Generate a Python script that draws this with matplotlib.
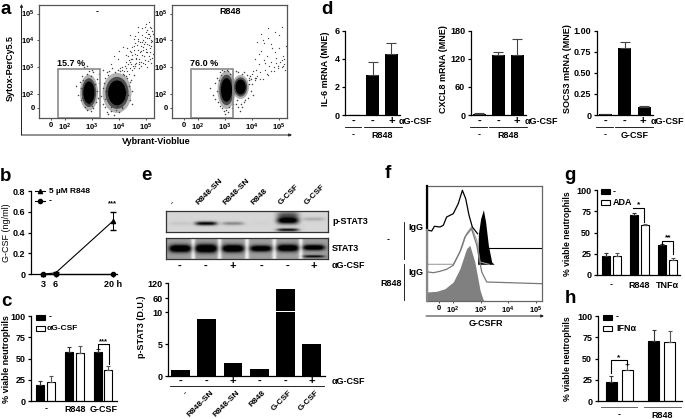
import numpy as np
import matplotlib
matplotlib.use('Agg')
import matplotlib.pyplot as plt
from matplotlib.lines import Line2D
from matplotlib.patches import Rectangle, Ellipse

plt.rcParams['font.family'] = ['Liberation Sans', 'DejaVu Sans']
plt.rcParams['font.weight'] = 'bold'
plt.rcParams['mathtext.fontset'] = 'custom'
plt.rcParams['mathtext.bf'] = 'Liberation Sans:bold'
plt.rcParams['axes.linewidth'] = 0.9

W, H = 685, 419

# panel a, flow plots, values in log10 units
a_tail_left_x = [4.1, 4.2, 4.25, 4.3, 4.35, 4.4, 4.4, 4.45, 4.5, 4.5, 4.55, 4.6, 4.6, 4.65, 4.7, 4.7, 4.75, 4.8, 4.8,
                 4.85, 4.85, 4.9, 4.9, 4.95, 5.0, 5.0, 5.05, 5.05, 5.1, 5.1, 5.15, 5.15, 5.2, 5.2, 5.25, 5.25, 4.3,
                 4.45, 4.6, 4.7, 4.85, 4.95, 5.05, 5.15, 5.2, 3.8, 4.0, 4.15, 4.4, 4.6, 4.75, 4.9, 5.05, 5.2, 5.0, 5.1,
                 4.22, 4.33, 4.42, 4.52, 4.57, 4.63, 4.68, 4.73, 4.78, 4.83, 4.88, 4.93, 4.97, 5.02, 5.08, 5.12, 5.18,
                 5.23, 4.28, 4.38, 4.48, 4.58, 4.66, 4.72, 4.82, 4.92, 5.03, 5.13, 5.22, 4.47, 4.62, 4.77, 4.87, 4.98,
                 5.07, 5.17, 5.24, 4.12, 4.18, 4.26, 4.36, 4.46, 4.56, 4.76, 4.96, 5.16, 3.7, 3.95, 4.05, 4.55, 4.72]
a_tail_left_y = [2.9, 2.7, 3.2, 2.85, 3.4, 2.95, 3.6, 3.1, 3.3, 3.75, 2.95, 3.5, 3.9, 3.15, 3.65, 4.05, 3.3, 3.8, 3.05,
                 4.2, 3.45, 3.65, 4.0, 3.25, 4.3, 3.55, 3.85, 4.4, 3.4, 4.1, 4.5, 3.7, 3.95, 4.45, 4.25, 3.5, 3.7,
                 3.3, 4.15, 4.3, 4.45, 4.5, 4.1, 3.3, 3.8, 3.4, 3.6, 3.75, 4.2, 3.05, 2.95, 3.15, 3.0, 3.15, 4.6, 4.7,
                 3.05, 3.12, 3.2, 3.05, 3.62, 3.28, 3.45, 3.18, 3.55, 3.2, 3.75, 3.4, 4.12, 3.68, 3.22, 3.82, 4.0,
                 3.32, 2.98, 3.25, 3.45, 3.12, 3.82, 3.98, 3.6, 3.85, 3.55, 4.25, 4.35, 2.9, 3.32, 3.92, 3.92, 3.95,
                 4.25, 3.55, 3.98, 3.0, 2.85, 3.45, 2.75, 3.55, 3.78, 3.1, 3.1, 4.15, 3.1, 3.3, 2.95, 4.05, 4.5]
a_tail_right_x = [3.9, 4.0, 4.1, 4.15, 4.2, 4.3, 4.35, 4.4, 4.45, 4.5, 4.55, 4.6, 4.6, 4.7, 4.7, 4.75, 4.8, 4.85, 4.9,
                  4.95, 5.0, 5.05, 5.1, 5.15, 5.2, 5.25, 4.1, 4.25, 4.4, 4.5, 4.6, 4.7, 4.85, 5.0, 5.1, 4.2, 4.35,
                  4.05, 4.15, 4.3, 4.55, 4.8, 5.15, 5.22, 4.95, 4.65, 4.45, 4.25, 5.2, 5.1, 4.9]
a_tail_right_y = [2.6, 2.75, 2.5, 2.9, 2.65, 2.8, 3.6, 2.55, 3.9, 2.9, 3.4, 2.7, 4.1, 3.2, 2.85, 3.7, 3.0, 4.3, 3.35,
                  3.05, 3.7, 3.2, 4.5, 3.4, 3.1, 3.8, 3.3, 3.5, 4.0, 3.15, 4.45, 3.85, 3.55, 4.2, 3.0, 3.95, 4.25,
                  2.85, 2.6, 2.55, 2.75, 2.85, 3.05, 2.9, 2.95, 3.05, 3.25, 3.1, 3.3, 3.25, 3.15]
a_halo_left_x = [2.42, 2.5, 2.55, 2.58, 2.6, 2.62, 2.65, 2.68, 2.7, 3.1, 3.14, 3.18, 3.2, 3.22, 3.25, 3.28, 2.75, 2.8,
                 2.9, 2.95, 3.0, 3.05, 2.8, 2.88, 2.96, 3.04, 3.35, 3.4, 3.42, 3.45, 3.48, 3.5, 3.5, 3.52, 3.55, 3.58,
                 4.3, 4.35, 4.38, 4.42, 4.45, 4.48, 4.5, 4.55, 3.6, 3.7, 3.8, 3.9, 4.0, 4.1, 3.65, 3.75, 3.85, 3.95,
                 4.05, 3.72, 3.82, 3.92, 4.02, 4.12, 4.22, 4.28, 4.15, 4.25, 4.4, 3.42, 3.55, 2.72, 2.82, 3.02]
a_halo_left_y = [2.3, 1.95, 2.45, 1.75, 2.2, 2.65, 1.85, 2.5, 2.05, 2.35, 1.7, 2.55, 2.1, 1.85, 2.75, 2.4, 1.5, 1.4,
                 1.6, 1.35, 1.55, 1.45, 2.75, 2.85, 2.65, 2.8, 1.9, 2.2, 1.6, 2.4, 1.8, 1.5, 2.6, 2.1, 1.3, 2.7,
                 2.6, 1.95, 2.3, 1.75, 2.5, 2.1, 1.6, 2.7, 1.25, 1.35, 1.2, 1.4, 1.3, 1.45, 2.85, 2.95, 2.8, 2.9,
                 2.85, 1.5, 1.6, 1.55, 1.65, 1.5, 1.8, 2.05, 2.75, 2.65, 2.45, 2.9, 2.8, 3.0, 3.05, 2.9]
a_halo_right_x = [2.45, 2.55, 2.62, 2.65, 2.7, 2.72, 2.75, 2.78, 2.8, 2.85, 2.9, 2.95, 3.0, 3.05, 3.1, 3.15, 2.82, 2.9,
                  2.98, 3.06, 3.12, 3.2, 3.25, 3.3, 3.9, 3.95, 4.0, 4.05, 3.85, 3.92, 3.98, 3.7, 3.6, 3.5, 3.45, 3.4,
                  3.8, 3.72, 3.62, 3.5, 3.4, 3.55, 3.65, 3.75, 4.1, 3.88]
a_halo_right_y = [2.2, 1.95, 2.4, 1.8, 2.1, 2.6, 1.7, 2.5, 1.55, 2.7, 1.45, 1.35, 1.25, 1.4, 1.3, 1.5, 2.8, 2.9, 2.85,
                  2.9, 2.85, 2.75, 1.45, 1.6, 2.5, 2.1, 2.35, 1.95, 1.85, 2.65, 2.55, 1.7, 1.6, 1.5, 1.75, 1.6,
                  2.7, 2.8, 2.75, 2.8, 2.85, 1.35, 1.5, 1.75, 2.6, 2.35]
a_cluster_left = [(2.89, 2.04, 0.67, 1.35), (3.93, 2.03, 1.07, 1.5)]
a_cluster_right = [(3.58, 2.25, 0.62, 0.9), (3.06, 2.14, 0.67, 1.43)]
a_ticks = [1.48, 2, 3, 4, 5]
a_ticklabels = ['0', r'$\mathbf{10^2}$', r'$\mathbf{10^3}$', r'$\mathbf{10^4}$', r'$\mathbf{10^5}$']

# panel b
b_hours = [3, 6, 20]
b_r848 = [0.0, 0.01, 0.51]
b_r848_err = [0.0, 0.01, 0.085]
b_ctrl = [0.0, 0.0, 0.0]

# panel c
c_groups = ['-', 'R848', 'G-CSF']
c_black = [19, 58, 58]
c_black_err = [5, 5, 3]
c_white = [22, 56, 36]
c_white_err = [7, 9, 5]

# panel d
d_il6 = [0.0, 2.85, 4.35]
d_il6_err = [0.0, 0.95, 0.75]
d_cxcl8 = [3, 128, 129]
d_cxcl8_err = [1, 7, 33]
d_socs3 = [0.01, 0.80, 0.09]
d_socs3_err = [0.005, 0.07, 0.015]

# panel e
e_names = ['-', 'R848-SN', 'R848-SN', 'R848', 'G-CSF', 'G-CSF']
e_signs = ['-', '-', '+', '-', '-', '+']
e_pstat = [1.0, 8.9, 2.1, 1.1, 97, 5.0]
# blot bands: lane, y centre, thickness, strength
e_bands_p = [(0, 223.5, 2, 0.06), (1, 223.5, 2.0, 0.85), (2, 223.5, 1.8, 0.3), (3, 223.5, 2, 0.02),
             (4, 220.5, 3.6, 1.0), (4, 214.5, 3.5, 0.45), (4, 230, 1.6, 0.8), (5, 219, 1.8, 0.16)]
e_bands_s = [(0, 248.5, 3.8, 0.95), (1, 248.5, 4.2, 1.0), (2, 248.5, 3.8, 0.95), (3, 248.5, 3.2, 0.85),
             (4, 248, 3.6, 0.9), (5, 247.5, 2.8, 0.85), (5, 256.5, 1.3, 0.6)]

# panel f, histograms, x in log10 units, y in counts
f_black_x = [1.11, 1.23, 1.33, 1.53, 1.65, 1.77, 2.01, 2.19, 2.34, 2.46, 2.58, 2.70, 2.89]
f_black_y = [70.7, 70, 74.7, 74, 75.7, 84, 87.3, 97.3, 110.7, 102.3, 85.7, 74, 67.3]
f_peak_x = [2.89, 2.92, 3.0, 3.10, 3.18, 3.28, 3.40, 3.49]
f_peak_y = [36.7, 67.3, 82.3, 91.3, 79, 55.7, 39, 36.7]
f_tail_x = [3.28, 3.76, 5.22]
f_tail_y = [53, 53, 53]
f_light_x = [1.06, 2.01, 2.31, 2.49, 2.67, 2.86, 2.98, 3.3]
f_light_y = [36.7, 36.7, 52.3, 67.3, 74, 60.7, 39, 36.7]
f_grey_x = [1.11, 1.29, 1.53, 1.77, 2.01, 2.25, 2.43, 2.67, 2.86, 3.04, 3.22, 5.22]
f_grey_y = [29, 28.3, 29.7, 31.7, 35.7, 49, 64, 72.3, 55.7, 29, 19, 17.3]
f_fill_x = [1.06, 1.41, 1.71, 2.01, 2.25, 2.49, 2.61, 2.79, 2.98, 3.10, 3.25]
f_fill_y = [9, 9.7, 12.3, 19, 32.3, 52.3, 55.7, 39, 10.7, 0.7, 0]

# panel g
g_black = [22, 71, 35]
g_black_err = [4, 2, 1]
g_white = [22, 59, 18]
g_white_err = [4, 1, 2]

# panel h
h_black = [22, 71]
h_black_err = [7, 12]
h_white = [36, 69]
h_white_err = [7, 13]

fig = plt.figure(figsize=(W / 100, H / 100), dpi=100)


def px_ax(x0, y0, x1, y1):
    return fig.add_axes([x0 / W, 1 - y1 / H, (x1 - x0) / W, (y1 - y0) / H])


def txt(x, y, s, size=6.5, ha='center', va='center', **kw):
    return fig.text(x / W, 1 - y / H, s, fontsize=size, ha=ha, va=va, **kw)


def line(xs, ys, color='k', lw=0.8):
    fig.add_artist(Line2D([x / W for x in xs], [1 - y / H for y in ys], color=color, lw=lw))


def arrow(x0, y0, x1, y1):
    fig.add_artist(matplotlib.patches.FancyArrowPatch((x0 / W, 1 - y0 / H), (x1 / W, 1 - y1 / H),
                                                      transform=fig.transFigure, arrowstyle='-|>', mutation_scale=4,
                                                      lw=0.7, color='#222222', shrinkA=0, shrinkB=0))


def legend_box(x, y, color):
    fig.add_artist(Rectangle((x / W, 1 - (y + 2.5) / H), 9 / W, 5 / H, transform=fig.transFigure,
                             fc=color, ec='k', lw=0.8))


def clean(ax, top, bottom, yticks, yfmt):
    ax.spines['top'].set_visible(False)
    ax.spines['right'].set_visible(False)
    ax.set_ylim(bottom, top)
    ax.set_yticks(yticks)
    ax.set_yticklabels([yfmt % v for v in yticks], fontsize=6.5)
    ax.tick_params(axis='y', length=2.5, width=0.9, pad=1.5)
    ax.set_xticks([])
    ax.patch.set_alpha(0)


def flow(x0, clusters, tx, ty, hx, hy, gate_lbl, title):
    ax = px_ax(x0, 5, x0 + 115, 118)
    ax.set_xlim(1.04, 5.3)
    ax.set_ylim(1.09, 5.32)
    ax.scatter(hx, hy, s=1.2, color='#444444', linewidths=0)
    for c_x, c_y, w, h in clusters:
        ax.add_patch(Ellipse((c_x, c_y), w, h, fc='#555555', ec='none', alpha=0.45))
        ax.add_patch(Ellipse((c_x, c_y), w * 0.8, h * 0.8, fc='#222222', ec='none', alpha=0.7))
        ax.add_patch(Ellipse((c_x, c_y), w * 0.62, h * 0.62, fc='k', ec='none'))
    ax.scatter(tx, ty, s=0.9, color='#444444', linewidths=0)
    ax.add_patch(Rectangle((1.74, 1.09), 1.56, 1.84, fc='none', ec='#8a8a8a', lw=1.2, clip_on=False))
    ax.set_xticks(a_ticks)
    ax.set_xticklabels(a_ticklabels, fontsize=5.5)
    ax.set_yticks(a_ticks)
    ax.set_yticklabels(a_ticklabels, fontsize=5.5)
    ax.tick_params(length=1.5, width=0.5, pad=1.5)
    for s in ax.spines.values():
        s.set_color('#555555')
        s.set_linewidth(0.9)
    txt(x0 + 18, 63, gate_lbl, ha='left')
    txt(x0 + 58, 12, title)


# a
flow(39, a_cluster_left, a_tail_left_x, a_tail_left_y, a_halo_left_x, a_halo_left_y, '15.7 %', '-')
flow(172, a_cluster_right, a_tail_right_x, a_tail_right_y, a_halo_right_x, a_halo_right_y, '76.0 %', 'R848')
arrow(21.5, 135, 21.5, 4)
arrow(21.5, 135, 292, 135)
txt(10, 68, 'Sytox-PerCy5.5', rotation=90)
txt(156, 142, 'Vybrant-Vioblue')

# b
ax = px_ax(31, 191, 117, 274)
clean(ax, 0.8, 0.0, [0, 0.2, 0.4, 0.6, 0.8], '%.1f')
ax.set_yticklabels(['0', '0.2', '0.4', '0.6', '0.8'], fontsize=6.5)
ax.set_xlim(0, 21)
ax.errorbar(b_hours, b_r848, yerr=b_r848_err, color='k', lw=0.8, marker='^', ms=3, capsize=2, clip_on=False, elinewidth=0.7)
ax.plot(b_hours, b_ctrl, color='k', lw=0.9, marker='o', ms=3, clip_on=False)
ax.set_xticks(b_hours)
ax.set_xticklabels(['3', '6', '20 h'], fontsize=6.5)
ax.tick_params(axis='x', length=2.5, width=0.9, pad=2)
txt(7, 233, 'G-CSF (ng/ml)', rotation=90, fontweight='normal')
line([35, 45], [191, 191])
fig.add_artist(Line2D([40 / W], [1 - 191 / H], marker='^', ms=3, color='k'))
txt(49, 191, '5 µM R848', ha='left', size=6)
line([35, 45], [201, 201])
fig.add_artist(Line2D([40 / W], [1 - 201 / H], marker='o', ms=3, color='k'))
txt(49, 201, '-', ha='left')
txt(112, 204, '***', size=5.5)


def grouped(ax, black, black_err, white, white_err, off, w):
    pos = np.arange(len(black))
    ax.bar(pos - off, black, w, color='k', edgecolor='k', lw=0.8)
    ax.bar(pos + off, white, w, color='w', edgecolor='k', lw=0.8)
    ax.errorbar(pos - off, black, yerr=[np.zeros(len(black)), black_err], fmt='none', ecolor='#333333', elinewidth=0.8, capsize=1.7, capthick=0.8)
    ax.errorbar(pos + off, white, yerr=[np.zeros(len(white)), white_err], fmt='none', ecolor='#555555', elinewidth=0.8, capsize=1.7, capthick=0.8)


# c
ax = px_ax(31, 316, 117, 401)
clean(ax, 100, 0, [0, 25, 50, 75, 100], '%d')
ax.set_xlim(-0.504, 2.487)
grouped(ax, c_black, c_black_err, c_white, c_white_err, 0.19, 0.278)
txt(7, 359, '% viable neutrophils', rotation=90)
for i, s in enumerate(c_groups):
    txt(46 + i * 28.75, 409, s)
legend_box(36, 317, 'k')
txt(49, 317, '-', ha='left')
legend_box(36, 328, 'w')
txt(47, 328, 'αG-CSF', ha='left', size=6)
line([98, 98, 108.7, 108.7], [349, 344, 344, 364])
txt(103, 341.5, '***', size=5.5)

# d
d_specs = [(345, 400, d_il6, d_il6_err, 6, [0, 2, 4, 6], '%d', 'IL-6 mRNA (MNE)', 325, 'R848'),
           (470.7, 526, d_cxcl8, d_cxcl8_err, 180, [0, 60, 120, 180], '%d', 'CXCL8 mRNA (MNE)', 443, 'R848'),
           (596.7, 653, d_socs3, d_socs3_err, 1.0, [0, 0.25, 0.5, 0.75, 1.0], '%.2f', 'SOCS3 mRNA (MNE)', 567, 'G-CSF')]
for x0, x1, vals, errs, top, ticks, fmt, ylab, ylx, grp in d_specs:
    ax = px_ax(x0, 30.7, x1, 115)
    clean(ax, top, 0, ticks, fmt)
    ax.set_yticklabels(['0' if v == 0 else fmt % v for v in ticks], fontsize=6.5)
    ax.set_xlim(-0.45, 2.45)
    pos = np.arange(3)
    ax.bar(pos, vals, 0.68, color='k')
    ax.errorbar(pos, vals, yerr=[np.zeros(3), errs], fmt='none', ecolor='#444444', elinewidth=0.8, capsize=3.5, capthick=0.8)
    c = x0 + 8.6
    for i, s in enumerate(['-', '-', '+']):
        txt(c + i * 19, 121, s, size=8)
    txt(c + 2 * 19 + 7, 121.5, 'αG-CSF', ha='left', size=6.5)
    line([c - 9, c + 7.5], [127.5, 127.5], lw=0.6)
    line([c + 10, c + 48], [127.5, 127.5], lw=0.6)
    txt(c, 135, '-')
    txt(c + 29, 135, grp)
    txt(ylx, 69, ylab, rotation=90)

lane_px = [180, 206, 233, 261, 288, 314]


def blot(x0, y0, x1, y1, bands, bg, gaps):
    ax = px_ax(x0, y0, x1, y1)
    xs = np.linspace(x0, x1, 240)
    ys = np.linspace(y0, y1, 60)
    img = np.full((60, 240), bg, dtype=float)
    if gaps:
        for lx in [193, 219.5, 247, 274.5, 301]:
            img += 0.32 * np.exp(-((xs - lx) / 2.2) ** 2)[None, :]
    for lane, centre, thick, st in bands:
        prof = np.exp(-((xs - lane_px[lane]) / 11) ** 4)[None, :]
        img -= st * prof * np.exp(-((ys - centre) / thick) ** 2)[:, None]
    ax.imshow(np.clip(img, 0, 1), cmap='gray', vmin=0, vmax=1, aspect='auto')
    ax.set_xticks([])
    ax.set_yticks([])
    for s in ax.spines.values():
        s.set_color('#333333')


# e
blot(166, 211, 328, 232, e_bands_p, 0.84, False)
blot(166, 238, 328, 259, e_bands_s, 0.62, True)
txt(332, 221, 'p-STAT3', ha='left')
txt(332, 248.5, 'STAT3', ha='left')
for xp, name, s in zip(lane_px, e_names, e_signs):
    txt(xp - 6, 206, name, rotation=45, ha='left', va='bottom', rotation_mode='anchor', size=6)
    txt(xp, 266, s, size=8)
txt(332, 266, 'αG-CSF', ha='left')

ax = px_ax(168, 312, 325, 376)
clean(ax, 10, 0, [0, 5, 10], '%d')
ax.set_xlim(-0.477, 5.51)
ax.bar(range(6), e_pstat, 0.72, color='k')
ax2 = px_ax(168, 283, 325, 310.5)
clean(ax2, 120, 10, [60, 120], '%d')
ax2.spines['bottom'].set_visible(False)
ax2.set_xlim(-0.477, 5.51)
ax2.bar(range(6), e_pstat, 0.72, color='k')
for i, s in enumerate(e_signs):
    txt(180.5 + i * 26.2, 381, s, size=8)
    txt(184 + i * 26.2, 389, e_names[i], rotation=45, ha='right', va='top', rotation_mode='anchor', size=6)
txt(332, 381.5, 'αG-CSF', ha='left')
line([170, 324], [386, 386], lw=0.6)
txt(141, 327, 'p-STAT3 (D.U.)', rotation=90)

# f
ax = px_ax(427, 186, 542, 301)
ax.set_xlim(1.06, 5.22)
ax.set_ylim(0, 115)
ax.fill_between(f_fill_x, f_fill_y, color='#808080', lw=0)
ax.plot(f_light_x, f_light_y, color='#a0a0a0', lw=0.8)
ax.plot(f_grey_x, f_grey_y, color='#777777', lw=0.9)
ax.fill_between(f_peak_x, f_peak_y, 36.7, color='k', lw=0)
ax.plot(f_black_x, f_black_y, color='k', lw=0.9)
ax.plot(f_tail_x, f_tail_y, color='k', lw=0.8)
ax.set_xticks([1.48, 2, 3, 4, 5])
ax.set_xticklabels(a_ticklabels, fontsize=5.5)
ax.set_yticks([])
ax.tick_params(length=1.5, width=0.5, pad=1.5)
for s in ax.spines.values():
    s.set_color('#666666')
    s.set_linewidth(0.9)
line([427, 427], [186, 230], lw=1.6)
line([427, 427], [230, 301], color='#888888', lw=1.6)
arrow(426, 316, 544, 316)
txt(486, 323, 'G-CSFR')
line([404, 404], [222, 259], lw=0.6)
line([404, 404], [264, 300], lw=0.6)
txt(408, 227, 'IgG', ha='left')
txt(408, 272, 'IgG', ha='left')
txt(388, 240, '-')
txt(391, 283, 'R848')

# g
ax = px_ax(596.7, 190, 680, 275)
clean(ax, 100, 0, [0, 25, 50, 75, 100], '%d')
ax.set_xlim(-0.51, 2.43)
grouped(ax, g_black, g_black_err, g_white, g_white_err, 0.19, 0.283)
for i, s in enumerate(['-', 'R848', 'TNFα']):
    txt(611.2 + i * 28.3, 285, s)
txt(568, 234, '% viable neutrophils', rotation=90, size=6.2)
legend_box(601, 191.5, 'k')
txt(613, 191.5, '-', ha='left')
legend_box(601, 202.5, 'w')
txt(613, 202.5, 'ADA', ha='left')
line([633, 644, 644], [207.7, 207.7, 222])
txt(639, 204.5, '*', size=6)
line([662, 662, 672.7, 672.7], [245, 241, 241, 254])
txt(668, 238, '**', size=6)

# h
ax = px_ax(597.7, 316, 681.7, 401)
clean(ax, 100, 0, [0, 25, 50, 75, 100], '%d')
ax.set_xlim(-0.505, 1.47)
grouped(ax, h_black, h_black_err, h_white, h_white_err, 0.188, 0.258)
line([601, 637], [407, 407], color='#666666', lw=0.7)
line([644, 681], [407, 407], color='#666666', lw=0.7)
txt(619, 415, '-')
txt(662, 415, 'R848')
txt(568, 359, '% viable neutrophils', rotation=90, size=6.2)
legend_box(603, 317, 'k')
txt(616, 317, '-', ha='left')
legend_box(603, 328, 'w')
txt(616, 328, 'IFNα', ha='left')
line([611, 611, 627, 627], [373, 360, 360, 365])
txt(619, 358, '*', size=6)

# letters
for x, y, s in [(6, 9, 'a'), (6, 176, 'b'), (6, 301, 'c'), (327, 9, 'd'), (146, 175, 'e'),
                (388, 174, 'f'), (570, 175, 'g'), (570, 298, 'h')]:
    txt(x, y, s, size=13.5)

fig.savefig('out.png', dpi=100)
